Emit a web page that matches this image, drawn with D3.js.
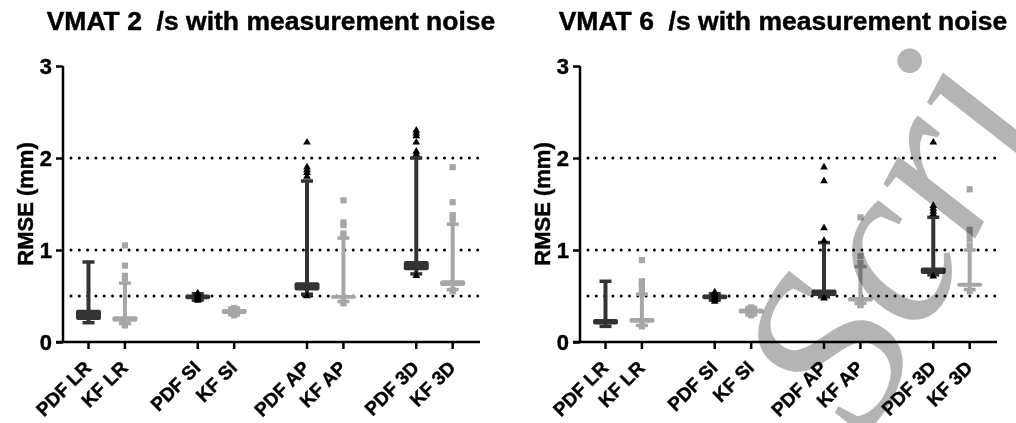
<!DOCTYPE html>
<html>
<head>
<meta charset="utf-8">
<script src="https://cdn.jsdelivr.net/npm/d3@7"></script>
<style>
  body { margin: 0; background: #fff; }
  svg { display: block; font-family: "Liberation Sans", Arial, sans-serif; font-weight: bold; }
  .lbl { stroke: #000; stroke-width: 0.45px; }
</style>
</head>
<body>
<svg id="chart" width="1016" height="423"></svg>
<script>
// categories and slot positions (gaps between pairs)
const categories = ["PDF LR", "KF LR", "PDF SI", "KF SI", "PDF AP", "KF AP", "PDF 3D", "KF 3D"];
const slots = [0, 1, 3, 4, 6, 7, 9, 10];
const yTicks = [0, 1, 2, 3];
const refLines = [0.5, 1, 2];
const titles = ["VMAT 2  /s with measurement noise", "VMAT 6  /s with measurement noise"];

// box plot values per category: whisker low, Q1, Q3, whisker high (mm)
const v2Low   = [0.21, 0.20, 0.455, 0.295, 0.52, 0.44, 0.74, 0.57];
const v2Q1    = [0.24, 0.22, 0.465, 0.305, 0.56, 0.47, 0.78, 0.61];
const v2Q3    = [0.35, 0.28, 0.515, 0.36, 0.65, 0.51, 0.88, 0.67];
const v2High  = [0.87, 0.64, 0.525, 0.37, 1.75, 1.13, 2.00, 1.28];
const v2Out = [
  [],
  [0.18, 0.19, 0.69, 0.72, 0.83, 1.05],
  [0.45, 0.47, 0.49, 0.51, 0.53],
  [0.29, 0.30, 0.36, 0.37],
  [0.50, 1.80, 1.84, 1.87, 1.90, 2.17],
  [0.42, 0.43, 1.15, 1.18, 1.27, 1.30, 1.54],
  [0.72, 2.04, 2.07, 2.17, 2.24, 2.27, 2.30],
  [0.55, 0.56, 1.31, 1.35, 1.38, 1.52, 1.90]
];

const v6Low   = [0.17, 0.18, 0.455, 0.295, 0.49, 0.42, 0.73, 0.57];
const v6Q1    = [0.19, 0.21, 0.465, 0.31, 0.50, 0.44, 0.74, 0.60];
const v6Q3    = [0.25, 0.26, 0.515, 0.365, 0.57, 0.49, 0.81, 0.645];
const v6High  = [0.66, 0.52, 0.525, 0.375, 1.08, 0.82, 1.355, 1.00];
const v6Out = [
  [],
  [0.17, 0.55, 0.60, 0.63, 0.66, 0.89],
  [0.44, 0.46, 0.49, 0.51, 0.53, 0.54],
  [0.29, 0.30, 0.37, 0.375],
  [0.475, 1.10, 1.24, 1.75, 1.90],
  [0.40, 0.41, 0.86, 0.935, 1.355],
  [0.715, 1.39, 1.42, 1.45, 1.48, 2.17],
  [0.55, 1.05, 1.12, 1.18, 1.22, 1.66]
];

const panels = [
  { title: titles[0], low: v2Low, q1: v2Q1, q3: v2Q3, high: v2High, out: v2Out, left: 63, titleX: 271 },
  { title: titles[1], low: v6Low, q1: v6Q1, q3: v6Q3, high: v6High, out: v6Out, left: 580, titleX: 783 }
];

const dark = "#333333";
const light = "#a6a6a6";
const plotW = 417;

const svg = d3.select("#chart");

const y = d3.scaleLinear().domain([0, 3]).range([342, 66]);

panels.forEach(p => {
  const g = svg.append("g");
  const x = d3.scaleLinear().domain([-0.7, 10.75]).range([p.left, p.left + plotW]);

  // title
  g.append("text")
    .attr("class", "lbl")
    .attr("x", p.titleX)
    .attr("y", 30)
    .attr("text-anchor", "middle")
    .attr("font-size", 26.5)
    .style("white-space", "pre")
    .text(p.title);

  // y label
  g.append("text")
    .attr("class", "lbl")
    .attr("transform", `translate(${p.left - 30},${y(1.5)}) rotate(-90)`)
    .attr("text-anchor", "middle")
    .attr("font-size", 22)
    .text("RMSE (mm)");

  // dotted reference lines
  g.selectAll(".ref").data(refLines).enter().append("line")
    .attr("x1", p.left + 8).attr("x2", p.left + plotW)
    .attr("y1", d => y(d)).attr("y2", d => y(d))
    .attr("stroke", "#000")
    .attr("stroke-width", 3)
    .attr("stroke-linecap", "round")
    .attr("stroke-dasharray", "0 8.3");

  // y axis
  const yAxis = d3.axisLeft(y).tickValues(yTicks).tickSize(7).tickPadding(4).tickFormat(d3.format("d"));
  const ya = g.append("g").attr("transform", `translate(${p.left},0)`).call(yAxis);
  ya.select(".domain").attr("d", `M0,${y(3)}V${y(0)}`).attr("stroke-width", 2.5);
  ya.selectAll(".tick line").attr("stroke-width", 2.5);
  ya.selectAll(".tick text").attr("class", "lbl").attr("font-size", 22).attr("font-family", null).attr("fill", "#000");

  // x axis
  const xa = g.append("g").attr("transform", `translate(0,${y(0)})`);
  xa.append("line").attr("x1", p.left - 7).attr("x2", p.left + plotW)
    .attr("stroke", "#000").attr("stroke-width", 2.5);
  xa.selectAll(".xt").data(slots).enter().append("line")
    .attr("x1", d => x(d)).attr("x2", d => x(d))
    .attr("y1", 0).attr("y2", 7)
    .attr("stroke", "#000").attr("stroke-width", 2.5);
  xa.selectAll(".xl").data(categories).enter().append("text")
    .attr("class", "lbl")
    .attr("transform", (d, i) => `translate(${x(slots[i]) + 4},27) rotate(-45)`)
    .attr("text-anchor", "end")
    .attr("font-size", 19)
    .text(d => d);

  // boxes and whiskers
  categories.forEach((c, i) => {
    const cx = x(slots[i]);
    const col = c.startsWith("PDF") ? dark : light;
    const bg = g.append("g");
    bg.append("line")
      .attr("x1", cx).attr("x2", cx)
      .attr("y1", y(p.low[i])).attr("y2", y(p.high[i]))
      .attr("stroke", col).attr("stroke-width", 4);
    [p.low[i], p.high[i]].forEach(v => {
      bg.append("rect")
        .attr("x", cx - 6).attr("width", 12)
        .attr("y", y(v) - 1.75).attr("height", 3.5)
        .attr("fill", col);
    });
    bg.append("rect")
      .attr("x", cx - 12.5).attr("width", 25)
      .attr("y", y(p.q3[i])).attr("height", Math.max(3, y(p.q1[i]) - y(p.q3[i])))
      .attr("rx", 2)
      .attr("fill", col);
  });

  // outlying points
  categories.forEach((c, i) => {
    const cx = x(slots[i]);
    const isPdf = c.startsWith("PDF");
    const sym = d3.symbol().type(isPdf ? d3.symbolTriangle : d3.symbolSquare).size(isPdf ? 26 : 38);
    g.selectAll(null).data(p.out[i]).enter().append("path")
      .attr("d", sym)
      .attr("transform", d => `translate(${cx},${y(d)})`)
      .attr("fill", isPdf ? "#000" : light);
  });
});

// watermark
svg.append("text")
  .attr("transform", "translate(868,440) rotate(-62)")
  .attr("font-family", "Liberation Serif, serif")
  .attr("font-style", "italic")
  .attr("font-weight", "normal")
  .attr("font-size", 232)
  .attr("fill", "#b4b4b4")
  .style("mix-blend-mode", "multiply")
  .text("Scri");
</script>
</body>
</html>
